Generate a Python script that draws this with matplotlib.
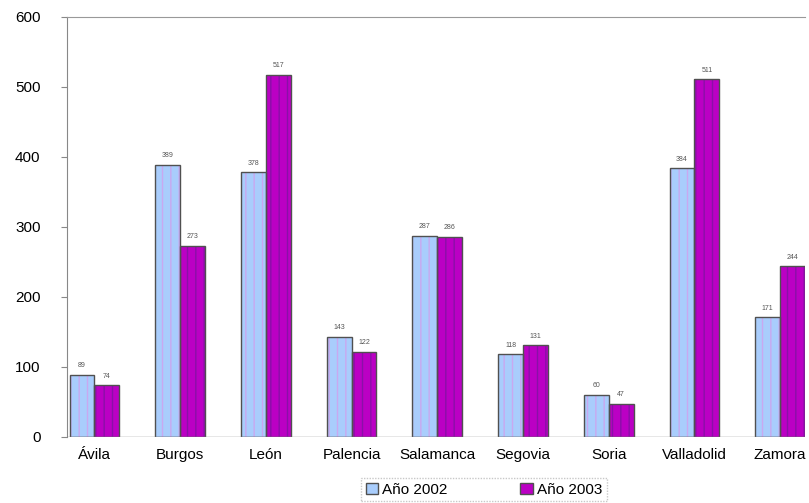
import matplotlib
matplotlib.use("Agg")
import matplotlib.pyplot as plt
import numpy as np
from matplotlib.patches import Patch

plt.rcParams['font.family'] = ['Liberation Sans', 'DejaVu Sans']

provincias = ["Ávila", "Burgos", "León", "Palencia", "Salamanca",
              "Segovia", "Soria", "Valladolid", "Zamora"]
anio_2002 = [89, 389, 378, 143, 287, 118, 60, 384, 171]
anio_2003 = [74, 273, 517, 122, 286, 131, 47, 511, 244]
series_labels = ["Año 2002", "Año 2003"]
y_ticks = [0, 100, 200, 300, 400, 500, 600]

fig = plt.figure(figsize=(8.09, 5.03), dpi=100)
ax = fig.add_axes([67 / 809, 1 - 437 / 503, (805 - 67) / 809, (437 - 17) / 503])

x = np.arange(len(provincias))
w = 0.29

styles = [
    dict(face="#a9cdfc", stripe="#c9a8f0"),
    dict(face="#bb00c4", stripe="#8a10a8"),
]
for k, vals in enumerate([anio_2002, anio_2003]):
    pos = x + (k - 0.5) * w
    st = styles[k]
    ax.bar(pos, vals, width=w, color=st["face"], edgecolor=st["stripe"],
           hatch="||", linewidth=0, zorder=2)
    ax.bar(pos, vals, width=w, fill=False, edgecolor="#505050",
           linewidth=1.0, zorder=3)
    for p, v in zip(pos, vals):
        ax.text(p, v + 8, str(v), ha="center", va="bottom",
                fontsize=5, color="#555555")

ax.set_xlim(-0.32, len(provincias) - 1 + 0.29)
ax.set_ylim(0, 600)
ax.set_yticks(y_ticks)
ax.set_xticks(x)
ax.set_xticklabels(provincias, fontsize=11)
ax.tick_params(axis="y", labelsize=11, length=4, color="#888888", pad=15)
ax.tick_params(axis="x", length=0, pad=8)

for s in ["right", "bottom"]:
    ax.spines[s].set_visible(False)
ax.spines["left"].set_color("#888888")
ax.spines["top"].set_color("#999999")
ax.spines["top"].set_linestyle((0, (1, 1)))
ax.axhline(0, color="#888888", linewidth=1.0, zorder=4)

handles = [Patch(facecolor=styles[0]["face"], edgecolor="#505050"),
           Patch(facecolor=styles[1]["face"], edgecolor="#505050")]
leg = fig.legend(handles, series_labels, loc="lower center",
                 bbox_to_anchor=(484 / 809, -0.012), ncol=2, fontsize=11,
                 frameon=True, fancybox=False, handlelength=0.8,
                 handleheight=0.8, handletextpad=0.3, columnspacing=4.75,
                 borderpad=0.3)
leg.get_frame().set_edgecolor("#bbbbbb")
leg.get_frame().set_linestyle((0, (1, 1)))

fig.savefig("out.png", dpi=100)
